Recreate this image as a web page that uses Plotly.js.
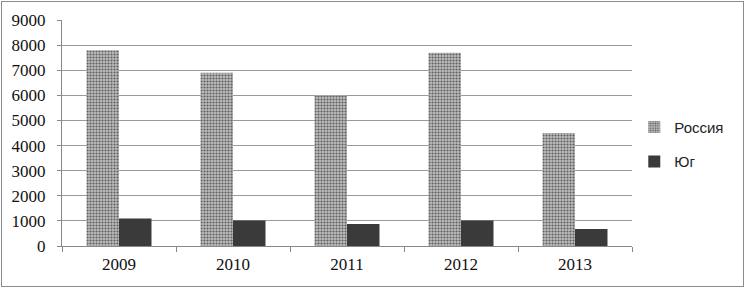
<!DOCTYPE html>
<html><head><meta charset="utf-8">
<script src="https://cdn.plot.ly/plotly-3.0.1.min.js"></script>
<style>
html,body{margin:0;padding:0;background:#fff;}
#wrap{position:relative;width:745px;height:288px;}
#chart{width:745px;height:288px;}
#frame{position:absolute;left:1px;top:1px;width:741px;height:284px;border:1px solid #8c8c8c;pointer-events:none;}
</style></head>
<body>
<div id="wrap"><div id="chart"></div><div id="frame"></div></div>
<script>
const years = ['2009','2010','2011','2012','2013'];
const russia = [7800, 6900, 6000, 7700, 4500];
const south = [1100, 1020, 880, 1020, 680];
const seriesNames = ['Россия','Юг'];

const traces = [
  {type:'bar', x:years, y:russia, name:seriesNames[0], legendgroup:'a',
   marker:{color:'#a8a8a8', pattern:{shape:'.', fgcolor:'#5e5e5e', bgcolor:'#bcbcbc', size:3, solidity:0.4}}},
  {type:'bar', x:years, y:south, name:seriesNames[1], legendgroup:'b',
   marker:{color:'#3a3a3a'}}
];
const layout = {
  width:745, height:288,
  margin:{l:62, r:113, t:20, b:42},
  paper_bgcolor:'#fff', plot_bgcolor:'#fff',
  barmode:'group', bargap:0.43, bargroupgap:0,
  showlegend:true,
  legend:{x:1.004, y:0.45, xanchor:'left', yanchor:'middle', font:{family:'Liberation Sans, Arial', size:15, color:'#222'}, tracegroupgap:12, itemwidth:30},
  xaxis:{type:'category', tickson:'boundaries', ticks:'outside', ticklen:5, tickcolor:'#888',
    showline:true, linecolor:'#888', linewidth:1, showgrid:false, ticklabelstandoff:3,
    tickfont:{family:'Liberation Serif, Times New Roman', size:17, color:'#111'}},
  yaxis:{range:[0,9000], dtick:1000, tick0:0, showgrid:true, gridcolor:'#9a9a9a', gridwidth:1,
    ticks:'outside', ticklen:4, tickcolor:'#888', showline:true, linecolor:'#888', linewidth:1,
    zeroline:false, ticklabelstandoff:8,
    tickfont:{family:'Liberation Serif, Times New Roman', size:17, color:'#111'}}
};
Plotly.newPlot('chart', traces, layout, {displayModeBar:false, staticPlot:true});
</script>
</body></html>
